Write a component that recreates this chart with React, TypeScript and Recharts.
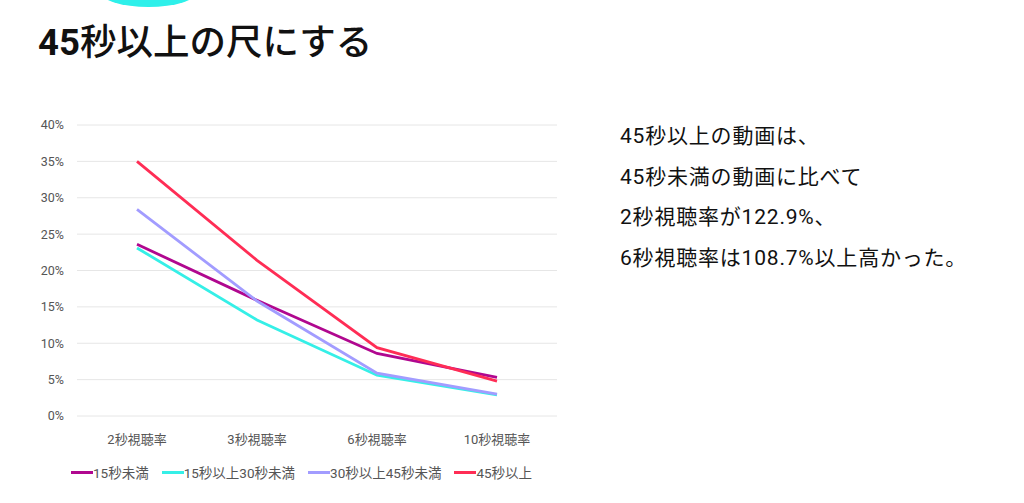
import { LineChart, Line, XAxis, YAxis, CartesianGrid, Legend } from 'recharts';

const categories = ['2秒視聴率', '3秒視聴率', '6秒視聴率', '10秒視聴率'];
const under15 = [23.6, 15.9, 8.6, 5.3];
const from15to30 = [23.1, 13.2, 5.6, 2.9];
const from30to45 = [28.4, 15.8, 5.9, 3.0];
const over45 = [35.0, 21.4, 9.4, 4.8];
const yTicks = [0, 5, 10, 15, 20, 25, 30, 35, 40];

const series = [
  { key: 'under15', name: '15秒未満', color: '#b0078f' },
  { key: 'from15to30', name: '15秒以上30秒未満', color: '#35efe7' },
  { key: 'from30to45', name: '30秒以上45秒未満', color: '#a29cff' },
  { key: 'over45', name: '45秒以上', color: '#ff2d55' },
];

const data = categories.map((name, i) => ({
  name,
  under15: under15[i],
  from15to30: from15to30[i],
  from30to45: from30to45[i],
  over45: over45[i],
}));

const summary = [
  '45秒以上の動画は、',
  '45秒未満の動画に比べて',
  '2秒視聴率が122.9%、',
  '6秒視聴率は108.7%以上高かった。',
];

const font = "Roboto, 'Noto Sans CJK JP', sans-serif";

const CustomLegend = () => (
  <div style={{ display: 'flex', justifyContent: 'flex-start', paddingLeft: 71, gap: 13, fontFamily: font }}>
    {series.map((s) => (
      <div key={s.key} style={{ display: 'flex', alignItems: 'center' }}>
        <div style={{ width: 22, height: 3, backgroundColor: s.color }} />
        <span style={{ fontSize: 13.5, color: '#555' }}>{s.name}</span>
      </div>
    ))}
  </div>
);

export default function App() {
  return (
    <div style={{ position: 'absolute', left: 0, top: 0, width: 1024, height: 503, background: '#fff', overflow: 'hidden', fontFamily: font }}>
      <div style={{ position: 'absolute', left: 100, top: -24, width: 97, height: 31, borderRadius: '50%', background: '#2ef0ea' }} />
      <div style={{ position: 'absolute', left: 38, top: 21, fontSize: 36.5, lineHeight: '44px', color: '#111', fontWeight: 500 }}>
        <span style={{ fontWeight: 700 }}>45</span>秒以上の尺にする
      </div>
      <div style={{ position: 'absolute', left: 620, top: 121, fontSize: 21, letterSpacing: 0.8, color: '#111', fontWeight: 400 }}>
        {summary.map((t, i) => (
          <div key={i} style={{ height: 40.5, lineHeight: '30px' }}>{t}</div>
        ))}
      </div>
      <div style={{ position: 'absolute', left: 0, top: 100 }}>
        <LineChart width={580} height={400} data={data} margin={{ top: 25, right: 23, left: 0, bottom: 10 }}>
          <CartesianGrid vertical={false} stroke="#e6e6e6" />
          <XAxis
            dataKey="name"
            scale="band"
            axisLine={false}
            tickLine={false}
            tickMargin={13}
            height={30}
            tick={{ fontSize: 13, fill: '#555', fontFamily: font }}
          />
          <YAxis
            width={77}
            domain={[0, 40]}
            ticks={yTicks}
            tickFormatter={(v) => `${v}%`}
            axisLine={false}
            tickLine={false}
            tickMargin={7}
            tick={{ fontSize: 12.5, fill: '#555', fontFamily: font }}
          />
          <Legend verticalAlign="bottom" height={44} content={<CustomLegend />} wrapperStyle={{ top: 362, left: 0 }} />
          {series.map((s) => (
            <Line
              key={s.key}
              type="linear"
              dataKey={s.key}
              name={s.name}
              stroke={s.color}
              strokeWidth={2.8}
              dot={false}
              activeDot={false}
              isAnimationActive={false}
            />
          ))}
        </LineChart>
      </div>
    </div>
  );
}
